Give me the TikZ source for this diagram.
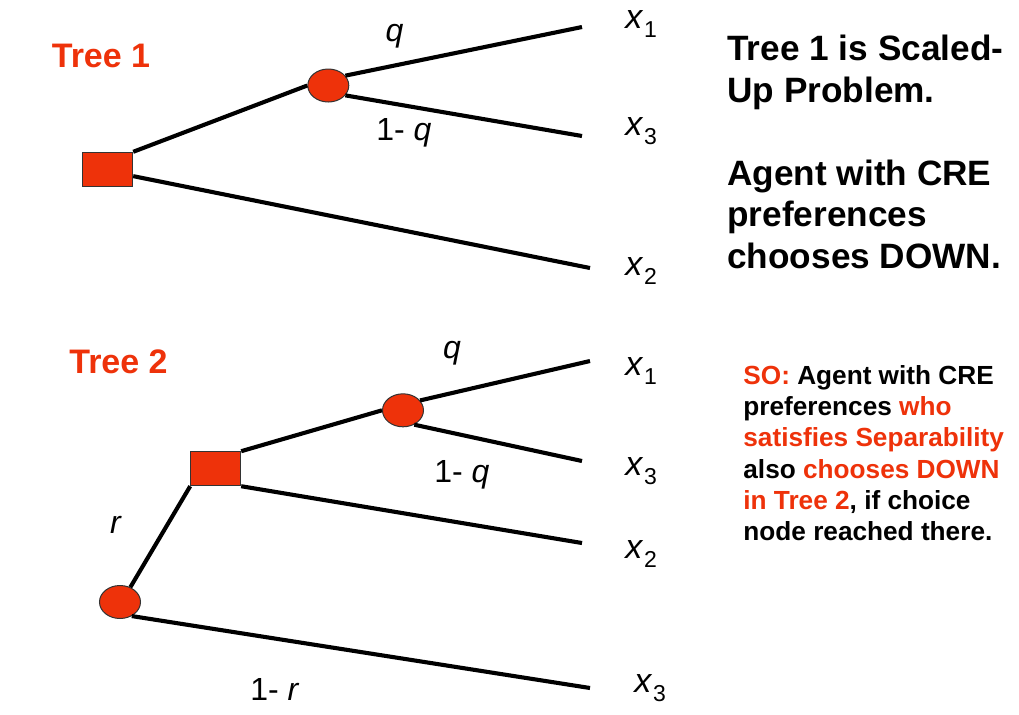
\documentclass[tikz,border=0pt]{standalone}
\usepackage{fontspec}
\setmainfont{Liberation Sans}
\usetikzlibrary{shapes.geometric}
\definecolor{rojo}{RGB}{238,50,10}
\newcommand{\xres}[1]{\textit{x}\kern0.4pt\raisebox{-4.5pt}{\fontsize{11.5}{12}\selectfont #1}}

\begin{document}
\begin{tikzpicture}[
    x=0.5pt, y=-0.5pt,
    decision/.style={draw=black!80, line width=0.5pt, fill=rojo, inner sep=0pt,
                     minimum width=25pt, minimum height=17pt},
    chance/.style={ellipse, draw=black!80, line width=0.5pt, fill=rojo, inner sep=0pt,
                   minimum width=20.5pt, minimum height=16.5pt},
    branch/.style={line width=2.05pt},
    prob/.style={font=\fontsize{16}{18}\selectfont, inner sep=0pt, anchor=base},
    payoff/.style={font=\fontsize{17}{19}\selectfont, inner sep=0pt, anchor=base west},
    treename/.style={font=\fontsize{17}{19}\selectfont\bfseries, text=rojo, inner sep=0pt, anchor=base},
    note/.style={align=left, inner sep=0pt, anchor=north west}
  ]
  \useasboundingbox (0,0) rectangle (1019,714);

  \node[treename] (t1) at (101,67)  {Tree 1};
  \node[treename] (t2) at (118.5,373) {Tree 2};

  \node[decision] (s1) at (107.7,169.3) {};
  \node[chance]   (c1) at (328.3,85.5)  {};
  \node[decision] (s2) at (215.7,468.7) {};
  \node[chance]   (c2) at (403,410.3)   {};
  \node[chance]   (c3) at (120,602)     {};

  \coordinate (e11) at (582,27);
  \coordinate (e13) at (582,136);
  \coordinate (e12) at (590,268);
  \coordinate (e21) at (590,361);
  \coordinate (e23) at (582,461);
  \coordinate (e22) at (582,543);
  \coordinate (e24) at (590,688);

  \draw[branch] (s1.north east) -- (c1.west);
  \draw[branch] (c1.30) -- (e11);
  \draw[branch] (c1.-30) -- (e13);
  \draw[branch] (s1.-15) -- (e12);
  \draw[branch] (c3.55) -- (s2.south west);
  \draw[branch] (s2.north east) -- (c2.west);
  \draw[branch] (c2.30) -- (e21);
  \draw[branch] (c2.-52) -- (e23);
  \draw[branch] (s2.south east) -- (e22);
  \draw[branch] (c3.-50) -- (e24);

  \node[prob] (q1)  at (394.5,41.7) {\textit{q}};
  \node[prob, anchor=base west] (nq1) at (376,140) {1- \textit{q}};
  \node[prob] (q2)  at (452,358) {\textit{q}};
  \node[prob, anchor=base west] (nq2) at (434,482) {1- \textit{q}};
  \node[prob] (r1)  at (116,533) {\textit{r}};
  \node[prob, anchor=base west] (nr1) at (250,700) {1- \textit{r}};

  \node[payoff] (x11) at (625,28)  {\xres{1}};
  \node[payoff] (x13) at (625,135) {\xres{3}};
  \node[payoff] (x12) at (625,275) {\xres{2}};
  \node[payoff] (x21) at (625,375) {\xres{1}};
  \node[payoff] (x23) at (625,475) {\xres{3}};
  \node[payoff] (x22) at (625,558) {\xres{2}};
  \node[payoff] (x24) at (634,692) {\xres{3}};

  \node[note, font=\fontsize{17.6}{20.75}\selectfont\bfseries] (n1) at (727,35)
    {Tree 1 is Scaled-\\ Up Problem.\\[20.75pt] Agent with CRE\\ preferences\\ chooses DOWN.};
  \node[note, font=\fontsize{13.1}{15.65}\selectfont\bfseries] (n2) at (743,365)
    {{\color{rojo}SO:} Agent with CRE\\ preferences {\color{rojo}who}\\
     {\color{rojo}satisfies Separability}\\ also {\color{rojo}chooses DOWN}\\
     {\color{rojo}in Tree 2}, if choice\\ node reached there.};
\end{tikzpicture}
\end{document}
